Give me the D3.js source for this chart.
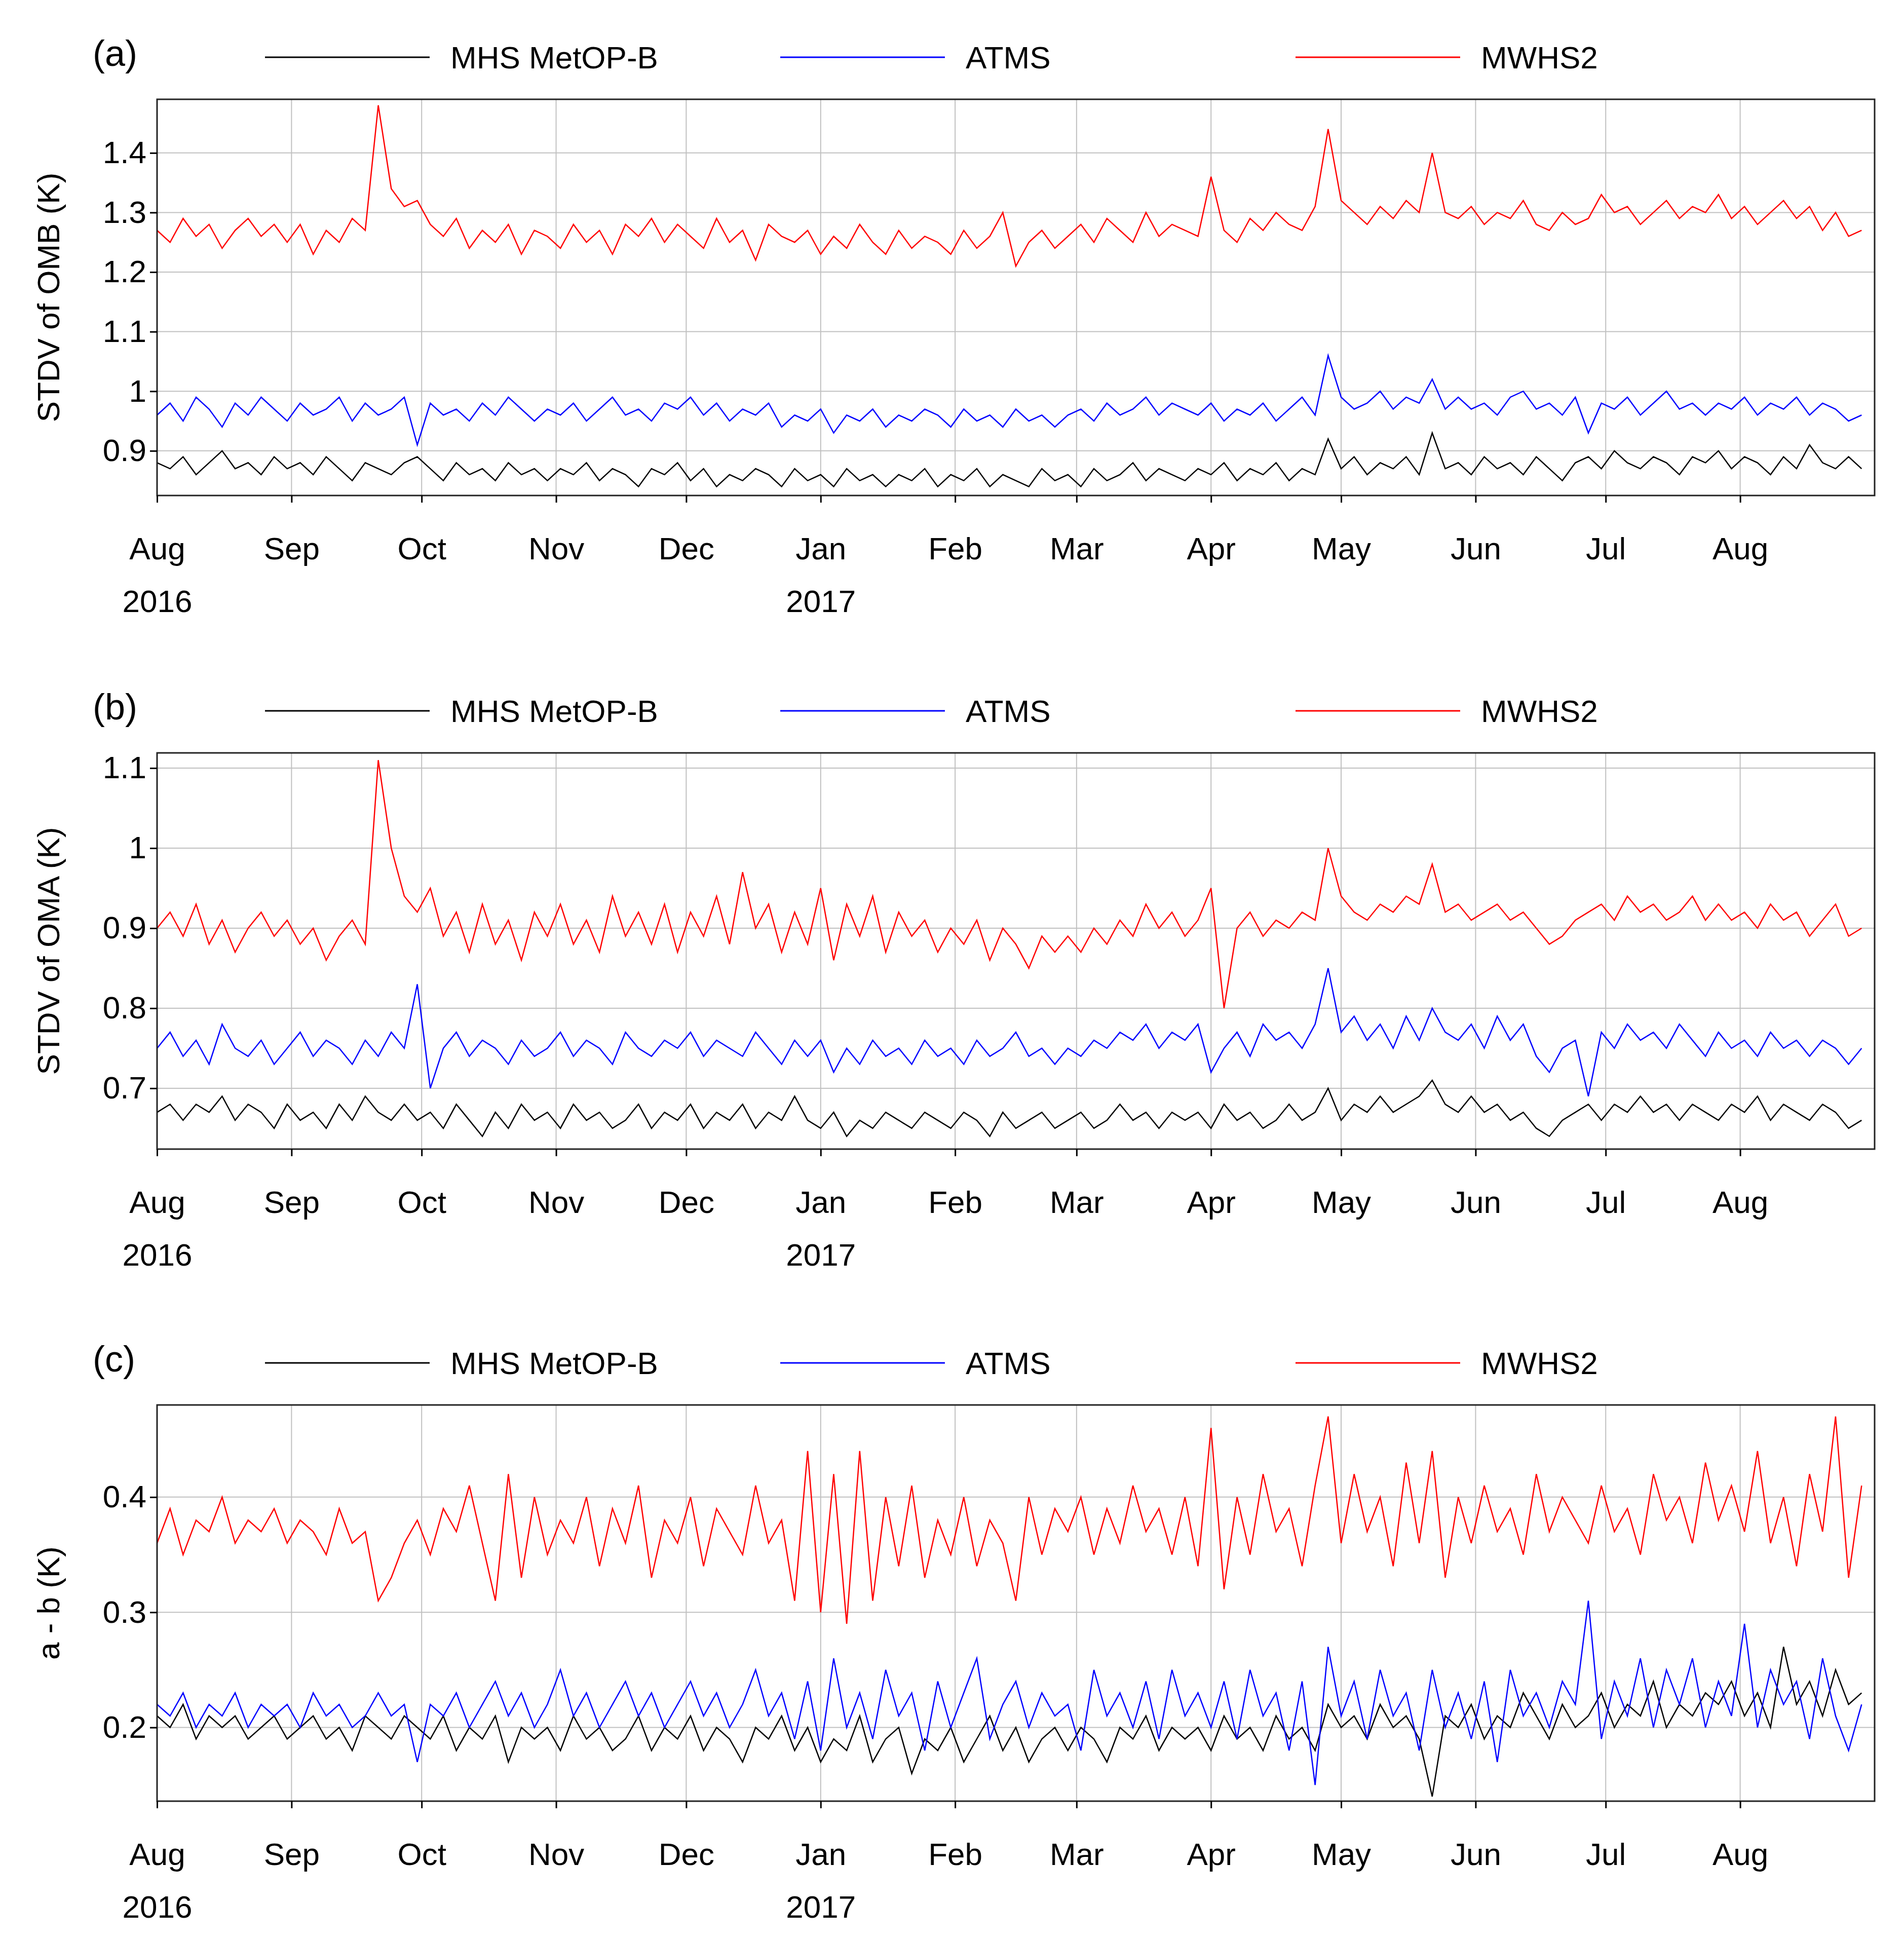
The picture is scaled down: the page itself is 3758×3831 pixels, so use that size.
<!DOCTYPE html>
<html><head><meta charset="utf-8">
<script src="https://cdn.jsdelivr.net/npm/d3@7"></script>
<style>body{margin:0;background:#fff}</style>
</head><body><div id="chart"></div>
<script>
// Data: one value every 3 days starting 2016-08-01
var startDate = new Date(2016, 7, 1), stepDays = 3;
var seriesNames = ["MHS MetOP-B", "ATMS", "MWHS2"];
var seriesColors = ["#000000", "#0000ff", "#ff0000"];

var ombMhs = [0.88,0.87,0.89,0.86,0.88,0.90,0.87,0.88,0.86,0.89, 0.87,0.88,0.86,0.89,0.87,0.85,0.88,0.87,0.86,0.88, 0.89,0.87,0.85,0.88,0.86,0.87,0.85,0.88,0.86,0.87, 0.85,0.87,0.86,0.88,0.85,0.87,0.86,0.84,0.87,0.86, 0.88,0.85,0.87,0.84,0.86,0.85,0.87,0.86,0.84,0.87, 0.85,0.86,0.84,0.87,0.85,0.86,0.84,0.86,0.85,0.87, 0.84,0.86,0.85,0.87,0.84,0.86,0.85,0.84,0.87,0.85, 0.86,0.84,0.87,0.85,0.86,0.88,0.85,0.87,0.86,0.85, 0.87,0.86,0.88,0.85,0.87,0.86,0.88,0.85,0.87,0.86, 0.92,0.87,0.89,0.86,0.88,0.87,0.89,0.86,0.93,0.87, 0.88,0.86,0.89,0.87,0.88,0.86,0.89,0.87,0.85,0.88, 0.89,0.87,0.90,0.88,0.87,0.89,0.88,0.86,0.89,0.88, 0.90,0.87,0.89,0.88,0.86,0.89,0.87,0.91,0.88,0.87,0.89,0.87];
var ombAtms = [0.96,0.98,0.95,0.99,0.97,0.94,0.98,0.96,0.99,0.97, 0.95,0.98,0.96,0.97,0.99,0.95,0.98,0.96,0.97,0.99, 0.91,0.98,0.96,0.97,0.95,0.98,0.96,0.99,0.97,0.95, 0.97,0.96,0.98,0.95,0.97,0.99,0.96,0.97,0.95,0.98, 0.97,0.99,0.96,0.98,0.95,0.97,0.96,0.98,0.94,0.96, 0.95,0.97,0.93,0.96,0.95,0.97,0.94,0.96,0.95,0.97, 0.96,0.94,0.97,0.95,0.96,0.94,0.97,0.95,0.96,0.94, 0.96,0.97,0.95,0.98,0.96,0.97,0.99,0.96,0.98,0.97, 0.96,0.98,0.95,0.97,0.96,0.98,0.95,0.97,0.99,0.96, 1.06,0.99,0.97,0.98,1.00,0.97,0.99,0.98,1.02,0.97, 0.99,0.97,0.98,0.96,0.99,1.00,0.97,0.98,0.96,0.99, 0.93,0.98,0.97,0.99,0.96,0.98,1.00,0.97,0.98,0.96, 0.98,0.97,0.99,0.96,0.98,0.97,0.99,0.96,0.98,0.97,0.95,0.96];
var ombMwhs = [1.27,1.25,1.29,1.26,1.28,1.24,1.27,1.29,1.26,1.28, 1.25,1.28,1.23,1.27,1.25,1.29,1.27,1.48,1.34,1.31, 1.32,1.28,1.26,1.29,1.24,1.27,1.25,1.28,1.23,1.27, 1.26,1.24,1.28,1.25,1.27,1.23,1.28,1.26,1.29,1.25, 1.28,1.26,1.24,1.29,1.25,1.27,1.22,1.28,1.26,1.25, 1.27,1.23,1.26,1.24,1.28,1.25,1.23,1.27,1.24,1.26, 1.25,1.23,1.27,1.24,1.26,1.30,1.21,1.25,1.27,1.24, 1.26,1.28,1.25,1.29,1.27,1.25,1.30,1.26,1.28,1.27, 1.26,1.36,1.27,1.25,1.29,1.27,1.30,1.28,1.27,1.31, 1.44,1.32,1.30,1.28,1.31,1.29,1.32,1.30,1.40,1.30, 1.29,1.31,1.28,1.30,1.29,1.32,1.28,1.27,1.30,1.28, 1.29,1.33,1.30,1.31,1.28,1.30,1.32,1.29,1.31,1.30, 1.33,1.29,1.31,1.28,1.30,1.32,1.29,1.31,1.27,1.30,1.26,1.27];

var omaMhs = [0.67,0.68,0.66,0.68,0.67,0.69,0.66,0.68,0.67,0.65, 0.68,0.66,0.67,0.65,0.68,0.66,0.69,0.67,0.66,0.68, 0.66,0.67,0.65,0.68,0.66,0.64,0.67,0.65,0.68,0.66, 0.67,0.65,0.68,0.66,0.67,0.65,0.66,0.68,0.65,0.67, 0.66,0.68,0.65,0.67,0.66,0.68,0.65,0.67,0.66,0.69, 0.66,0.65,0.67,0.64,0.66,0.65,0.67,0.66,0.65,0.67, 0.66,0.65,0.67,0.66,0.64,0.67,0.65,0.66,0.67,0.65, 0.66,0.67,0.65,0.66,0.68,0.66,0.67,0.65,0.67,0.66, 0.67,0.65,0.68,0.66,0.67,0.65,0.66,0.68,0.66,0.67, 0.70,0.66,0.68,0.67,0.69,0.67,0.68,0.69,0.71,0.68, 0.67,0.69,0.67,0.68,0.66,0.67,0.65,0.64,0.66,0.67, 0.68,0.66,0.68,0.67,0.69,0.67,0.68,0.66,0.68,0.67, 0.66,0.68,0.67,0.69,0.66,0.68,0.67,0.66,0.68,0.67,0.65,0.66];
var omaAtms = [0.75,0.77,0.74,0.76,0.73,0.78,0.75,0.74,0.76,0.73, 0.75,0.77,0.74,0.76,0.75,0.73,0.76,0.74,0.77,0.75, 0.83,0.70,0.75,0.77,0.74,0.76,0.75,0.73,0.76,0.74, 0.75,0.77,0.74,0.76,0.75,0.73,0.77,0.75,0.74,0.76, 0.75,0.77,0.74,0.76,0.75,0.74,0.77,0.75,0.73,0.76, 0.74,0.76,0.72,0.75,0.73,0.76,0.74,0.75,0.73,0.76, 0.74,0.75,0.73,0.76,0.74,0.75,0.77,0.74,0.75,0.73, 0.75,0.74,0.76,0.75,0.77,0.76,0.78,0.75,0.77,0.76, 0.78,0.72,0.75,0.77,0.74,0.78,0.76,0.77,0.75,0.78, 0.85,0.77,0.79,0.76,0.78,0.75,0.79,0.76,0.80,0.77, 0.76,0.78,0.75,0.79,0.76,0.78,0.74,0.72,0.75,0.76, 0.69,0.77,0.75,0.78,0.76,0.77,0.75,0.78,0.76,0.74, 0.77,0.75,0.76,0.74,0.77,0.75,0.76,0.74,0.76,0.75,0.73,0.75];
var omaMwhs = [0.90,0.92,0.89,0.93,0.88,0.91,0.87,0.90,0.92,0.89, 0.91,0.88,0.90,0.86,0.89,0.91,0.88,1.11,1.00,0.94, 0.92,0.95,0.89,0.92,0.87,0.93,0.88,0.91,0.86,0.92, 0.89,0.93,0.88,0.91,0.87,0.94,0.89,0.92,0.88,0.93, 0.87,0.92,0.89,0.94,0.88,0.97,0.90,0.93,0.87,0.92, 0.88,0.95,0.86,0.93,0.89,0.94,0.87,0.92,0.89,0.91, 0.87,0.90,0.88,0.91,0.86,0.90,0.88,0.85,0.89,0.87, 0.89,0.87,0.90,0.88,0.91,0.89,0.93,0.90,0.92,0.89, 0.91,0.95,0.80,0.90,0.92,0.89,0.91,0.90,0.92,0.91, 1.00,0.94,0.92,0.91,0.93,0.92,0.94,0.93,0.98,0.92, 0.93,0.91,0.92,0.93,0.91,0.92,0.90,0.88,0.89,0.91, 0.92,0.93,0.91,0.94,0.92,0.93,0.91,0.92,0.94,0.91, 0.93,0.91,0.92,0.90,0.93,0.91,0.92,0.89,0.91,0.93,0.89,0.90];

var diffMhs = [0.21,0.20,0.22,0.19,0.21,0.20,0.21,0.19,0.20,0.21, 0.19,0.20,0.21,0.19,0.20,0.18,0.21,0.20,0.19,0.21, 0.20,0.19,0.21,0.18,0.20,0.19,0.21,0.17,0.20,0.19, 0.20,0.18,0.21,0.19,0.20,0.18,0.19,0.21,0.18,0.20, 0.19,0.21,0.18,0.20,0.19,0.17,0.20,0.19,0.21,0.18, 0.20,0.17,0.19,0.18,0.21,0.17,0.19,0.20,0.16,0.19, 0.18,0.20,0.17,0.19,0.21,0.18,0.20,0.17,0.19,0.20, 0.18,0.20,0.19,0.17,0.20,0.19,0.21,0.18,0.20,0.19, 0.20,0.18,0.21,0.19,0.20,0.18,0.21,0.19,0.20,0.18, 0.22,0.20,0.21,0.19,0.22,0.20,0.21,0.19,0.14,0.21, 0.20,0.22,0.19,0.21,0.20,0.23,0.21,0.19,0.22,0.20, 0.21,0.23,0.20,0.22,0.21,0.24,0.20,0.22,0.21,0.23, 0.22,0.24,0.21,0.23,0.20,0.27,0.22,0.24,0.21,0.25,0.22,0.23];
var diffAtms = [0.22,0.21,0.23,0.20,0.22,0.21,0.23,0.20,0.22,0.21, 0.22,0.20,0.23,0.21,0.22,0.20,0.21,0.23,0.21,0.22, 0.17,0.22,0.21,0.23,0.20,0.22,0.24,0.21,0.23,0.20, 0.22,0.25,0.21,0.23,0.20,0.22,0.24,0.21,0.23,0.20, 0.22,0.24,0.21,0.23,0.20,0.22,0.25,0.21,0.23,0.19, 0.24,0.18,0.26,0.20,0.23,0.19,0.25,0.21,0.23,0.18, 0.24,0.20,0.23,0.26,0.19,0.22,0.24,0.20,0.23,0.21, 0.22,0.18,0.25,0.21,0.23,0.20,0.24,0.19,0.25,0.21, 0.23,0.20,0.24,0.19,0.25,0.21,0.23,0.18,0.24,0.15, 0.27,0.21,0.24,0.19,0.25,0.21,0.23,0.18,0.25,0.20, 0.23,0.19,0.24,0.17,0.25,0.21,0.23,0.20,0.24,0.22, 0.31,0.19,0.24,0.21,0.26,0.20,0.25,0.22,0.26,0.20, 0.24,0.21,0.29,0.20,0.25,0.22,0.24,0.19,0.26,0.21,0.18,0.22];
var diffMwhs = [0.36,0.39,0.35,0.38,0.37,0.40,0.36,0.38,0.37,0.39, 0.36,0.38,0.37,0.35,0.39,0.36,0.37,0.31,0.33,0.36, 0.38,0.35,0.39,0.37,0.41,0.36,0.31,0.42,0.33,0.40, 0.35,0.38,0.36,0.40,0.34,0.39,0.36,0.41,0.33,0.38, 0.36,0.40,0.34,0.39,0.37,0.35,0.41,0.36,0.38,0.31, 0.44,0.30,0.42,0.29,0.44,0.31,0.40,0.34,0.41,0.33, 0.38,0.35,0.40,0.34,0.38,0.36,0.31,0.40,0.35,0.39, 0.37,0.40,0.35,0.39,0.36,0.41,0.37,0.39,0.35,0.40, 0.34,0.46,0.32,0.40,0.35,0.42,0.37,0.39,0.34,0.41, 0.47,0.36,0.42,0.37,0.40,0.34,0.43,0.36,0.44,0.33, 0.40,0.36,0.41,0.37,0.39,0.35,0.42,0.37,0.40,0.38, 0.36,0.41,0.37,0.39,0.35,0.42,0.38,0.40,0.36,0.43, 0.38,0.41,0.37,0.44,0.36,0.40,0.34,0.42,0.37,0.47,0.33,0.41];

var panels = [
  {tag: "(a)", ylabel: "STDV of OMB (K)", series: [ombMhs, ombAtms, ombMwhs], domain: [0.825, 1.49], ticks: [0.9, 1, 1.1, 1.2, 1.3, 1.4], top: 196},
  {tag: "(b)", ylabel: "STDV of OMA (K)", series: [omaMhs, omaAtms, omaMwhs], domain: [0.624, 1.119], ticks: [0.7, 0.8, 0.9, 1, 1.1], top: 1486},
  {tag: "(c)", ylabel: "a - b (K)", series: [diffMhs, diffAtms, diffMwhs], domain: [0.136, 0.48], ticks: [0.2, 0.3, 0.4], top: 2773}
];

var width = 3758, height = 3831,
    left = 310, right = 3700, plotH = 782;
var font = "Liberation Sans, Arial, sans-serif";

var svg = d3.select("#chart").append("svg")
    .attr("width", width).attr("height", height)
    .style("font-family", font);

var x = d3.scaleTime()
    .domain([new Date(2016, 7, 1), new Date(2017, 8, 1)])
    .range([left, right]);
var months = d3.timeMonth.range(new Date(2016, 7, 1), new Date(2017, 8, 1));
var dateAt = function(i) { return d3.timeDay.offset(startDate, i * stepDays); };

panels.forEach(function(p) {
  var g = svg.append("g");
  var y = d3.scaleLinear().domain(p.domain).range([p.top + plotH, p.top]);

  // grid
  g.selectAll(".vg").data(months).enter().append("line")
    .attr("x1", d => x(d)).attr("x2", d => x(d))
    .attr("y1", p.top).attr("y2", p.top + plotH)
    .attr("stroke", "#c0c0c0").attr("stroke-width", 2);
  g.selectAll(".hg").data(p.ticks).enter().append("line")
    .attr("x1", left).attr("x2", right)
    .attr("y1", d => y(d)).attr("y2", d => y(d))
    .attr("stroke", "#c0c0c0").attr("stroke-width", 2);

  // series
  var line = d3.line().x((d, i) => x(dateAt(i))).y(d => y(d));
  p.series.forEach(function(s, k) {
    g.append("path").datum(s).attr("d", line)
      .attr("fill", "none").attr("stroke", seriesColors[k]).attr("stroke-width", 2.5);
  });

  // frame
  g.append("rect").attr("x", left).attr("y", p.top)
    .attr("width", right - left).attr("height", plotH)
    .attr("fill", "none").attr("stroke", "#222").attr("stroke-width", 3);

  // axes
  var yAxis = g.append("g").attr("transform", "translate(" + left + ",0)")
    .call(d3.axisLeft(y).tickValues(p.ticks).tickSize(14).tickFormat(d => String(+d.toFixed(1))));
  yAxis.select(".domain").remove();
  yAxis.selectAll("text").attr("font-size", 62).attr("font-family", font).attr("dx", -4);
  yAxis.selectAll("line").attr("stroke-width", 3);

  var xAxis = g.append("g").attr("transform", "translate(0," + (p.top + plotH) + ")")
    .call(d3.axisBottom(x).tickValues(months).tickSize(14).tickFormat(d3.timeFormat("%b")));
  xAxis.select(".domain").remove();
  xAxis.selectAll("line").attr("stroke-width", 3);
  xAxis.selectAll("text").attr("font-size", 62).attr("font-family", font).attr("y", 82);
  xAxis.selectAll(".tick").filter(d => d.getMonth() === 7 && d.getFullYear() === 2016 || d.getMonth() === 0)
    .append("text").attr("fill", "#000").attr("font-size", 62).attr("font-family", font)
    .attr("y", 186).attr("dy", "0.71em").text(d => d.getFullYear());
  xAxis.selectAll(".tick text").attr("text-anchor", "middle");

  // y label
  svg.append("text")
    .attr("transform", "translate(117," + (p.top + plotH / 2) + ") rotate(-90)")
    .attr("text-anchor", "middle").attr("font-size", 62).text(p.ylabel);

  // tag
  svg.append("text").attr("x", 183).attr("y", p.top - 66)
    .attr("font-size", 72).text(p.tag);

  // legend
  var legX = [523, 1540, 2557];
  seriesNames.forEach(function(n, k) {
    svg.append("line").attr("x1", legX[k]).attr("x2", legX[k] + 325)
      .attr("y1", p.top - 83).attr("y2", p.top - 83)
      .attr("stroke", seriesColors[k]).attr("stroke-width", 3);
    svg.append("text").attr("x", legX[k] + 366).attr("y", p.top - 61)
      .attr("font-size", 62).text(n);
  });
});
</script>
</body></html>
